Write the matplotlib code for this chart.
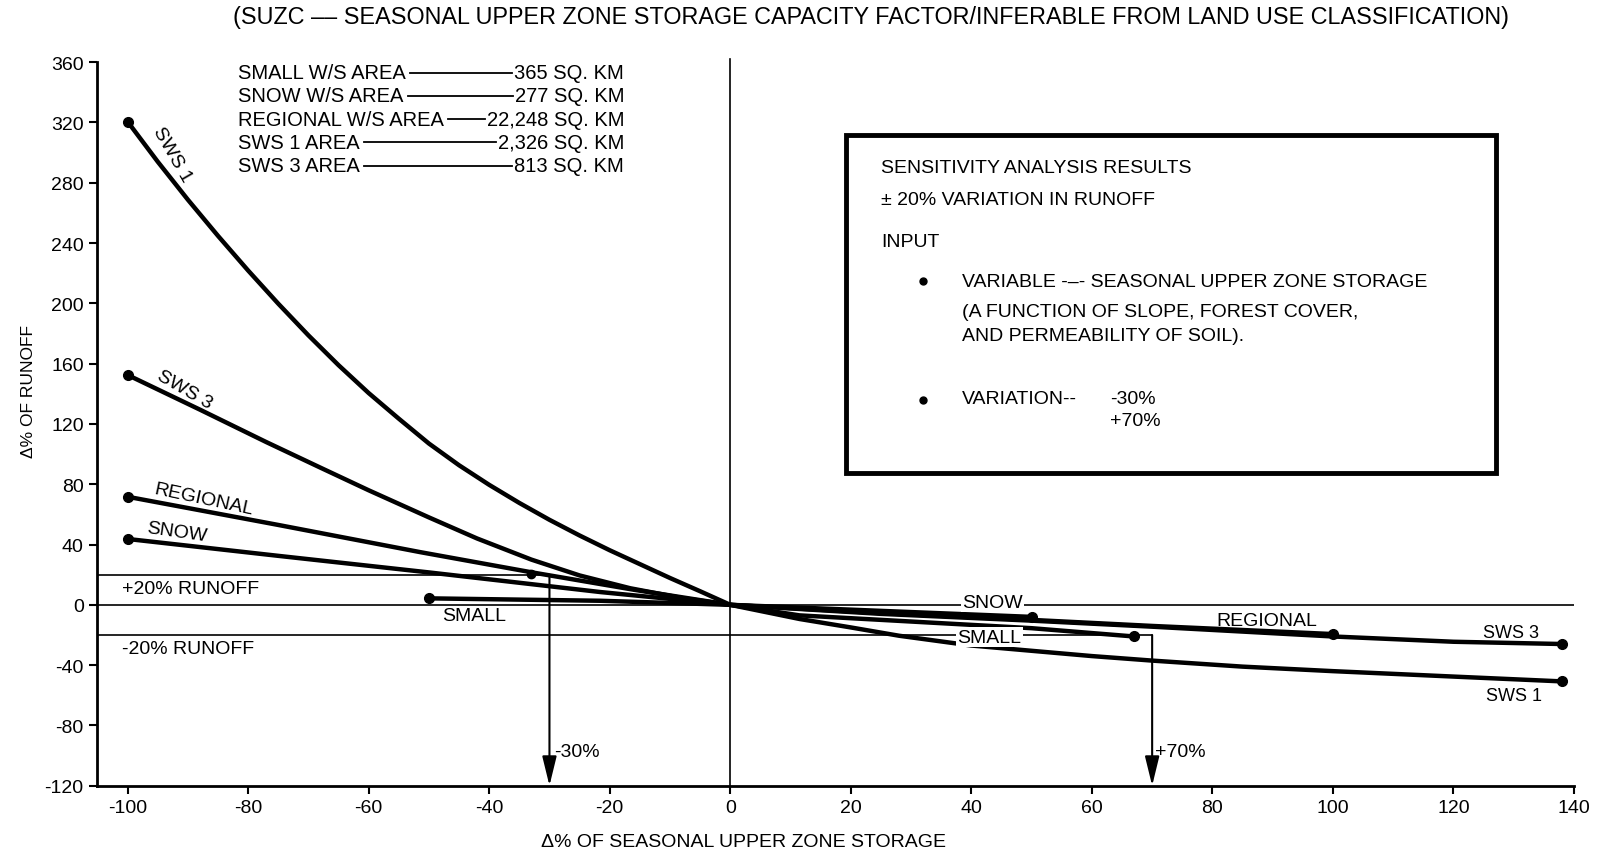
import matplotlib
matplotlib.use("Agg")
import matplotlib.pyplot as plt
from matplotlib.patches import Rectangle

plt.rcParams['font.family'] = ['Liberation Sans', 'DejaVu Sans']
plt.rcParams['axes.unicode_minus'] = False

# curves (x: % change of SUZC, y: % change of runoff)
sws1_x = [-100, -95, -90, -85, -80, -75, -70, -65, -60, -55, -50, -45, -40, -35, -30, -25, -20, -15,
          -10, -5, 0, 11.5, 20, 28, 40, 50, 60, 70, 85, 100, 120, 138]
sws1_y = [320.6, 294, 268.8, 244.8, 221.8, 199.8, 178.8, 159, 140.5, 123.5, 107, 92.6, 79.6, 67.6, 56.4, 46,
          36.2, 27, 17.8, 9, 0, -9.4, -15, -20.5, -27, -30.5, -34, -37, -41, -44, -47.6, -50.8]

sws3_x = [-100, -88, -77, -68, -60, -50, -42, -33, -25, -16.6, -8, 0, 25, 50, 70, 100, 120, 138]
sws3_y = [152.5, 129.5, 108, 91, 76, 58, 44, 30, 19.5, 11, 4.5, 0, -6, -10.5, -14.5, -21, -24.5, -26]

regional_x = [-100, -75, -51.5, -33, -16, 0, 25, 50, 70, 100]
regional_y = [71.7, 53, 35, 21.6, 10, 0, -5.5, -10, -14, -19.4]

snow_x = [-100, -75, -50, -21.6, 0, 11.5, 50, 67]
snow_y = [43.7, 32.5, 21.5, 8.5, 0, -7, -15.5, -21]

small_x = [-50, -21.6, 0, 25, 50]
small_y = [4.3, 2.7, 0, -4, -8]

# extra marked point where regional crosses +20% runoff
mark_x = [-33]
mark_y = [20.5]

area_names = ["SMALL W/S AREA", "SNOW W/S AREA", "REGIONAL W/S AREA", "SWS 1 AREA", "SWS 3 AREA"]
area_values = ["365 SQ. KM", "277 SQ. KM", "22,248 SQ. KM", "2,326 SQ. KM", "813 SQ. KM"]

fig = plt.figure(figsize=(15.98, 8.54), dpi=100)
ax = fig.add_axes([0.0606, 0.0788, 0.9244, 0.8472])
ax.set_xlim(-105.1, 140)
ax.set_ylim(-120, 360)
ax.spines['top'].set_visible(False)
ax.spines['right'].set_visible(False)
ax.spines['left'].set_linewidth(2)
ax.spines['bottom'].set_linewidth(2)
ax.set_xticks(range(-100, 141, 20))
ax.set_yticks(range(-120, 361, 40))
ax.tick_params(direction='out', length=6, width=1.5, labelsize=14)

# reference lines
ax.axvline(0, ymax=1.005, color='black', lw=1.2, clip_on=False)
ax.axhline(0, color='black', lw=1.2)
ax.hlines(20, -105.1, -30, color='black', lw=1.2)
ax.hlines(-20, -105.1, 70, color='black', lw=1.2)

# curves
for xs, ys in [(sws1_x, sws1_y), (sws3_x, sws3_y), (regional_x, regional_y), (snow_x, snow_y), (small_x, small_y)]:
    ax.plot(xs, ys, color='black', lw=3.2, solid_capstyle='round', solid_joinstyle='round')
    ax.plot([xs[0], xs[-1]], [ys[0], ys[-1]], 'o', color='black', ms=7)
ax.plot(mark_x, mark_y, 'o', color='black', ms=6)

# arrows
arrow = dict(arrowstyle='-|>,head_length=0.9,head_width=0.22', color='black', lw=1.5,
             mutation_scale=20, shrinkA=0, shrinkB=0)
ax.annotate('', xy=(-30, -120), xytext=(-30, 20), arrowprops=arrow, annotation_clip=False)
ax.annotate('', xy=(70, -120), xytext=(70, -20), arrowprops=arrow, annotation_clip=False)
ax.text(-29.2, -97, "-30%", fontsize=14, va='center')
ax.text(70.5, -97, "+70%", fontsize=14, va='center')

ax.text(-101, 11, "+20% RUNOFF", fontsize=14, va='center')
ax.text(-101, -29, "-20% RUNOFF", fontsize=14, va='center')

# curve labels
ax.text(-92.6, 299, "SWS 1", fontsize=14, rotation=-60, ha='center', va='center')
ax.text(-90.5, 143, "SWS 3", fontsize=14, rotation=-30, ha='center', va='center')
ax.text(-87.3, 70.2, "REGIONAL", fontsize=14, rotation=-12, ha='center', va='center')
ax.text(-91.8, 48.3, "SNOW", fontsize=14, rotation=-8, ha='center', va='center')
ax.text(-42.5, -6.8, "SMALL", fontsize=14, ha='center', va='center')
wbox = dict(facecolor='white', edgecolor='none', pad=1)
ax.text(43.5, 1.5, "SNOW", fontsize=14, ha='center', va='center', bbox=wbox)
ax.text(43, -21.5, "SMALL", fontsize=14, ha='center', va='center', bbox=wbox)
ax.text(89, -10.5, "REGIONAL", fontsize=14, ha='center', va='center')
ax.text(129.5, -18.5, "SWS 3", fontsize=13, ha='center', va='center')
ax.text(130, -60, "SWS 1", fontsize=13, ha='center', va='center')

# area list
rows_y = [353, 337.6, 322.2, 306.8, 291.4]
left_txt = []
right_txt = []
for name, val, yy in zip(area_names, area_values, rows_y):
    left_txt.append(ax.text(-81.6, yy, name, fontsize=14.5, va='center'))
    right_txt.append(ax.text(-17.6, yy, val, fontsize=14.5, va='center', ha='right'))
fig.canvas.draw()
rend = fig.canvas.get_renderer()
inv = ax.transData.inverted()
for lt, rt, yy in zip(left_txt, right_txt, rows_y):
    x0 = inv.transform((lt.get_window_extent(rend).x1 + 4, 0))[0]
    x1 = inv.transform((rt.get_window_extent(rend).x0 - 2, 0))[0]
    ax.plot([x0, x1], [yy, yy], color='black', lw=1.3)

# info box
ax.add_patch(Rectangle((19.2, 87.5), 107.8, 224.5, fill=True, facecolor='white', edgecolor='black', lw=3.5, zorder=3))
bx = dict(fontsize=14, va='center', zorder=4)
ax.text(25, 290, "SENSITIVITY ANALYSIS RESULTS", **bx)
ax.text(25, 269, "± 20% VARIATION IN RUNOFF", **bx)
ax.text(25, 241, "INPUT", **bx)
ax.plot([32, 32], [214.7, 136], 'o', color='black', ms=5, zorder=4)
ax.text(38.5, 214.7, "VARIABLE -–- SEASONAL UPPER ZONE STORAGE", **bx)
ax.text(38.5, 194.4, "(A FUNCTION OF SLOPE, FOREST COVER,", **bx)
ax.text(38.5, 179, "AND PERMEABILITY OF SOIL).", **bx)
ax.text(38.5, 137, "VARIATION--", **bx)
ax.text(63, 137, "-30%", **bx)
ax.text(63, 122, "+70%", **bx)

ax.set_xlabel("Δ% OF SEASONAL UPPER ZONE STORAGE", fontsize=14)
ax.xaxis.set_label_coords(0.438, -0.066)
ax.set_ylabel("Δ% OF RUNOFF", fontsize=12.5)
ax.yaxis.set_label_coords(-0.041, 0.546)

fig.text(0.545, 0.98, "(SUZC –– SEASONAL UPPER ZONE STORAGE CAPACITY FACTOR/INFERABLE FROM LAND USE CLASSIFICATION)",
         fontsize=16.8, ha='center', va='center')

fig.savefig("out.png", dpi=100)
